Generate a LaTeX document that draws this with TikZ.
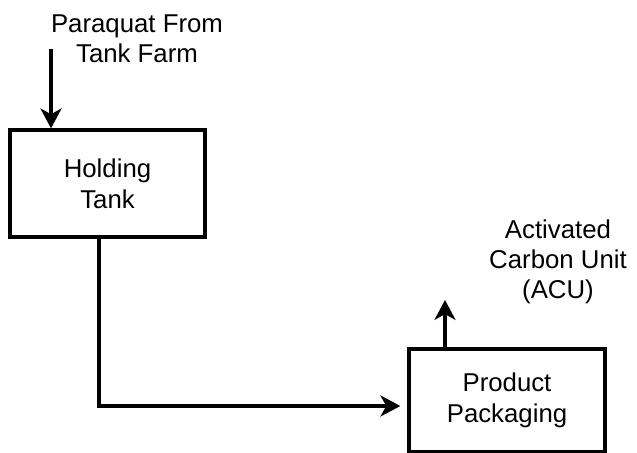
\documentclass[tikz,border=0pt]{standalone}
\usepackage{fontspec}
\setmainfont{Liberation Sans}
\usetikzlibrary{arrows.meta}

\begin{document}
\begin{tikzpicture}[
  x=0.03cm, y=-0.03cm,
  >={Stealth[length=17pt, width=18pt, inset=5pt]},
  line width=2.6pt,
  unit/.style={draw, line width=2.8pt, align=center, inner sep=0pt,
               font=\fontsize{22}{26.5}\selectfont},
  lbl/.style={align=center, font=\fontsize{22}{25.6}\selectfont},
]
\useasboundingbox (0,0) rectangle (637,453);
\node[lbl] (src) at (137,39) {Paraquat From\\Tank Farm};
\node[unit, minimum width=5.85cm, minimum height=3.21cm] (hold) at (107.5,183.5) {Holding\\Tank};
\node[unit, minimum width=5.88cm, minimum height=3.09cm] (pack) at (507,400.5) {Product\\Packaging};
\node[lbl] (acu) at (558,262) {Activated\\Carbon Unit\\(ACU)};
\coordinate (feed) at (51,49);
\coordinate (turn) at (99,406);
\coordinate (vent) at (445,300);
\draw[->] (feed) -- (feed |- hold.north);
\draw[->, shorten >=6pt] (hold.south -| turn) -- (turn) -- (turn -| pack.west);
\draw[->] (vent |- pack.north) -- (vent);
\end{tikzpicture}
\end{document}
